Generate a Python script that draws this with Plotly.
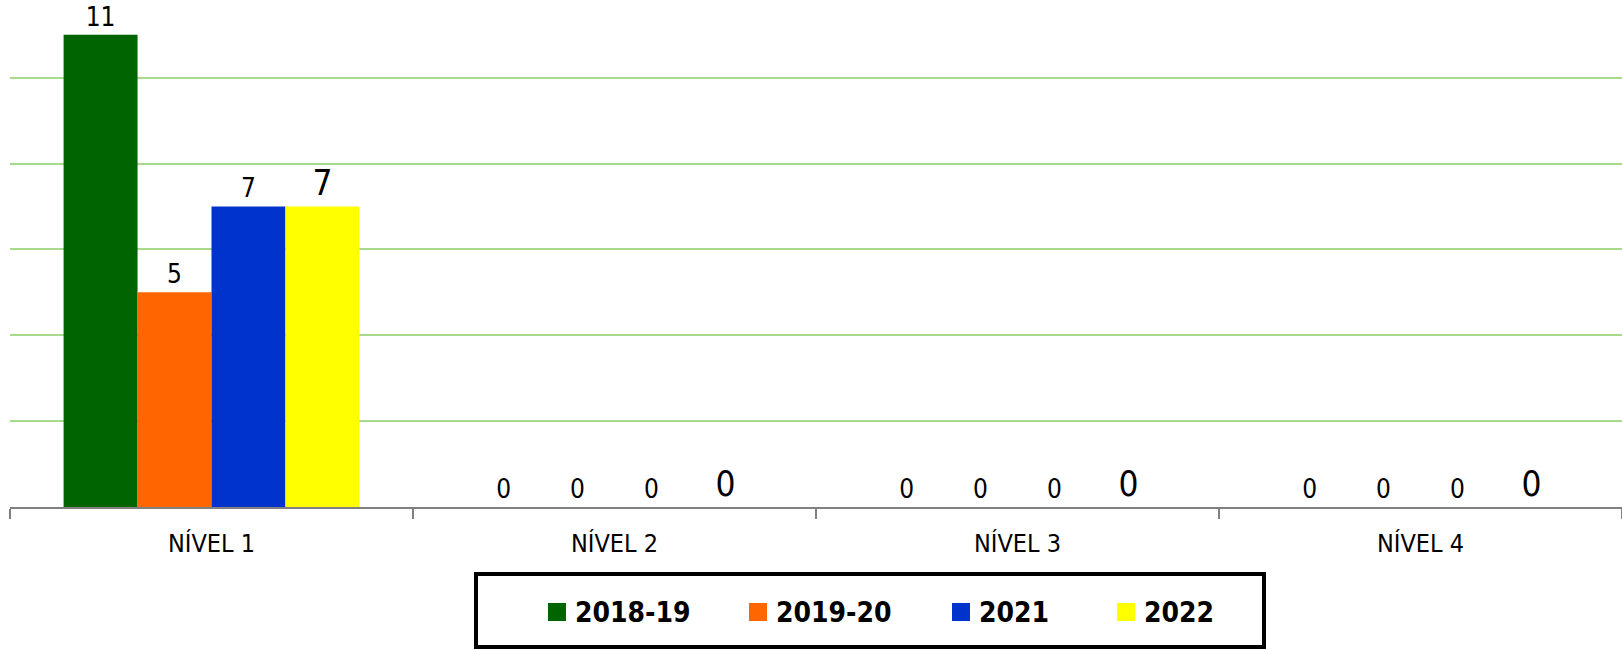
import plotly.graph_objects as go

categories = ["NÍVEL 1", "NÍVEL 2", "NÍVEL 3", "NÍVEL 4"]
series_names = ["2018-19", "2019-20", "2021", "2022"]
values_2018_19 = [11, 0, 0, 0]
values_2019_20 = [5, 0, 0, 0]
values_2021 = [7, 0, 0, 0]
values_2022 = [7, 0, 0, 0]
series_values = [values_2018_19, values_2019_20, values_2021, values_2022]
colors = ["#006400", "#FF6600", "#0033CC", "#FFFF00"]
label_sizes = [26, 26, 26, 35]

FONT = "Liberation Sans Narrow, DejaVu Sans Condensed, Arial Narrow, sans-serif"

W, H = 1622, 650
ML, MR, MT, MB = 10, 0, 0, 143
PW, PH = W - ML - MR, H - MT - MB

fig = go.Figure()
for name, vals, col, ls in zip(series_names, series_values, colors, label_sizes):
    fig.add_trace(go.Bar(
        x=categories, y=vals, name=name, marker=dict(color=col, line=dict(width=0)),
        text=[str(v) for v in vals], textposition="outside",
        textfont=dict(family=FONT, size=ls, color="black"),
        cliponaxis=False, showlegend=False,
    ))

# manual legend (layout decoration)
def px_x(p):
    return (p - ML) / PW

def px_y(p):
    return (H - MB - p) / PH

shapes = [dict(type="rect", xref="paper", yref="paper",
               x0=px_x(476), x1=px_x(1264), y0=px_y(647), y1=px_y(574),
               line=dict(color="black", width=4), fillcolor="white", layer="above")]
annotations = []
legend_x = [548, 749, 952, 1117]
for name, col, lx in zip(series_names, colors, legend_x):
    shapes.append(dict(type="rect", xref="paper", yref="paper",
                       x0=px_x(lx), x1=px_x(lx + 18), y0=px_y(621), y1=px_y(603),
                       line=dict(width=0), fillcolor=col, layer="above"))
    annotations.append(dict(xref="paper", yref="paper", x=px_x(lx + 25), y=px_y(612),
                            xanchor="left", yanchor="middle", showarrow=False,
                            text="<b>" + name + "</b>",
                            font=dict(family=FONT, size=28, color="black")))

fig.update_layout(
    width=W, height=H,
    margin=dict(l=ML, r=MR, t=MT, b=MB, pad=0),
    paper_bgcolor="white", plot_bgcolor="white",
    barmode="group", bargap=0.266, bargroupgap=0,
    shapes=shapes, annotations=annotations,
    xaxis=dict(type="category", showline=True, linecolor="#808080", linewidth=2,
               ticks="outside", tickson="boundaries", ticklen=10, tickwidth=2,
               tickcolor="#808080", showgrid=False,
               tickfont=dict(family=FONT, size=25, color="black"),
               ticklabelstandoff=13, fixedrange=True),
    yaxis=dict(range=[0, 11.81], dtick=2, showticklabels=False, showgrid=True,
               gridcolor="#A9D98A", gridwidth=1.5, zeroline=False, showline=False,
               fixedrange=True),
    showlegend=False,
)

fig.write_html("out.html", post_script="document.body.style.margin='0';",
               config={"displayModeBar": False})
